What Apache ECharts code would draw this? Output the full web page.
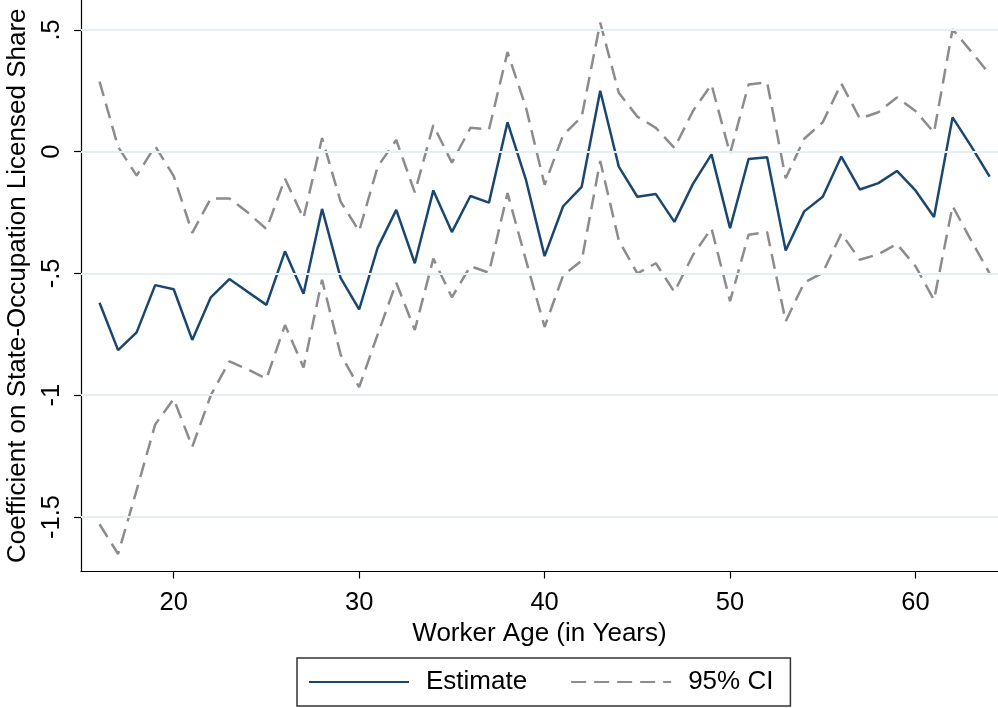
<!DOCTYPE html>
<html>
<head>
<meta charset="utf-8">
<script src="https://cdn.jsdelivr.net/npm/echarts@6/dist/echarts.min.js"></script>
<style>
  html, body { margin: 0; padding: 0; background: #fff; }
  #main { width: 998px; height: 708px; }
</style>
</head>
<body>
<div id="main"></div>
<script>
// worker age 16..64
const ages = [16, 17, 18, 19, 20, 21, 22, 23, 24, 25, 26, 27, 28, 29, 30, 31, 32, 33, 34, 35, 36, 37, 38, 39, 40,
  41, 42, 43, 44, 45, 46, 47, 48, 49, 50, 51, 52, 53, 54, 55, 56, 57, 58, 59, 60, 61, 62, 63, 64];

const estimate = [-0.62, -0.815, -0.742, -0.548, -0.565, -0.773, -0.598, -0.523, -0.576, -0.629,
  -0.409, -0.583, -0.235, -0.518, -0.648, -0.394, -0.239, -0.458, -0.159, -0.33,
  -0.182, -0.209, 0.121, -0.117, -0.429, -0.224, -0.144, 0.25, -0.061, -0.185,
  -0.174, -0.288, -0.132, -0.011, -0.314, -0.03, -0.023, -0.406, -0.245, -0.185,
  -0.02, -0.155, -0.129, -0.079, -0.159, -0.268, 0.141, 0.023, -0.102];

const ciUpper = [0.288, 0.02, -0.098, 0.023, -0.1, -0.333, -0.192, -0.192, -0.25, -0.318,
  -0.111, -0.273, 0.056, -0.205, -0.326, -0.061, 0.048, -0.167, 0.109, -0.045,
  0.098, 0.091, 0.409, 0.18, -0.136, 0.068, 0.144, 0.53, 0.242, 0.144,
  0.098, 0.015, 0.167, 0.276, -0.008, 0.276, 0.285, -0.109, 0.053, 0.121,
  0.28, 0.136, 0.162, 0.223, 0.167, 0.079, 0.503, 0.412, 0.318];

const ciLower = [-1.53, -1.652, -1.39, -1.12, -1.015, -1.212, -1.0, -0.861, -0.894, -0.932,
  -0.712, -0.886, -0.526, -0.833, -0.967, -0.75, -0.538, -0.732, -0.439, -0.598,
  -0.47, -0.497, -0.17, -0.447, -0.72, -0.508, -0.447, -0.038, -0.364, -0.5,
  -0.458, -0.576, -0.424, -0.315, -0.614, -0.341, -0.33, -0.697, -0.538, -0.497,
  -0.336, -0.444, -0.421, -0.379, -0.47, -0.609, -0.223, -0.364, -0.5];

const xTicks = [20, 30, 40, 50, 60];
const yTicks = [-1.5, -1, -0.5, 0, 0.5];

const font = 'Liberation Sans, Arial, sans-serif';

function pairs(ys) {
  return ages.map((a, i) => [a, ys[i]]);
}

// stata style labels: .5, -.5
function fmtY(v) {
  return String(v).replace('0.', '.');
}

const chart = echarts.init(document.getElementById('main'), null, { renderer: 'canvas' });

const option = {
  animation: false,
  backgroundColor: '#fff',
  grid: { left: 81, right: 0, top: 0, bottom: 136.5, containLabel: false, outerBoundsMode: 'none' },
  xAxis: {
    type: 'value',
    min: 15,
    max: 64.45,
    name: 'Worker Age (in Years)',
    nameLocation: 'middle',
    nameGap: 45,
    nameTextStyle: { fontFamily: font, fontSize: 26, color: '#000', verticalAlign: 'top' },
    axisLine: { show: true, onZero: false, lineStyle: { color: '#000', width: 1.2 } },
    axisTick: { show: true, length: 7, customValues: xTicks, lineStyle: { color: '#000', width: 1.2 } },
    axisLabel: { customValues: xTicks, fontFamily: font, fontSize: 25.5, color: '#000', margin: 18 },
    splitLine: { show: false }
  },
  yAxis: {
    type: 'value',
    min: -1.724,
    max: 0.623,
    name: 'Coefficient on State-Occupation Licensed Share',
    nameLocation: 'middle',
    nameRotate: 90,
    nameGap: 45,
    nameTextStyle: { fontFamily: font, fontSize: 26, color: '#000' },
    axisLine: { show: true, onZero: false, lineStyle: { color: '#000', width: 1.2 } },
    axisTick: { show: true, length: 7, customValues: yTicks, lineStyle: { color: '#000', width: 1.2 } },
    axisLabel: {
      customValues: yTicks, rotate: 90, fontFamily: font, fontSize: 25.5, color: '#000', margin: 16,
      formatter: fmtY
    },
    splitLine: { show: false }
  },
  legend: {
    data: ['Estimate', '95% CI'],
    left: 297,
    top: 658,
    orient: 'horizontal',
    itemWidth: 100,
    itemHeight: 14,
    itemGap: 43,
    padding: [11, 17, 11, 11],
    borderColor: '#333',
    borderWidth: 1.5,
    itemStyle: { opacity: 0 },
    textStyle: { fontFamily: font, fontSize: 26, color: '#000', padding: [0, 0, 0, 12] }
  },
  series: [
    {
      // holds the horizontal grid lines under the data
      name: 'grid',
      type: 'line',
      z: 1,
      data: [],
      markLine: {
        silent: true,
        symbol: 'none',
        label: { show: false },
        lineStyle: { color: '#e6eef1', width: 2, type: 'solid' },
        data: yTicks.map(v => ({ yAxis: v }))
      }
    },
    {
      name: '95% CI',
      type: 'line',
      z: 2,
      symbol: 'none',
      data: pairs(ciUpper),
      lineStyle: { color: '#8c8c8c', width: 2.5, type: [15, 8] },
      itemStyle: { color: '#8c8c8c' }
    },
    {
      name: '95% CI',
      type: 'line',
      z: 2,
      symbol: 'none',
      data: pairs(ciLower),
      lineStyle: { color: '#8c8c8c', width: 2.5, type: [15, 8] },
      itemStyle: { color: '#8c8c8c' }
    },
    {
      name: 'Estimate',
      type: 'line',
      z: 3,
      symbol: 'none',
      data: pairs(estimate),
      lineStyle: { color: '#1a476f', width: 2.5 },
      itemStyle: { color: '#1a476f' }
    }
  ]
};

chart.setOption(option);
</script>
</body>
</html>
